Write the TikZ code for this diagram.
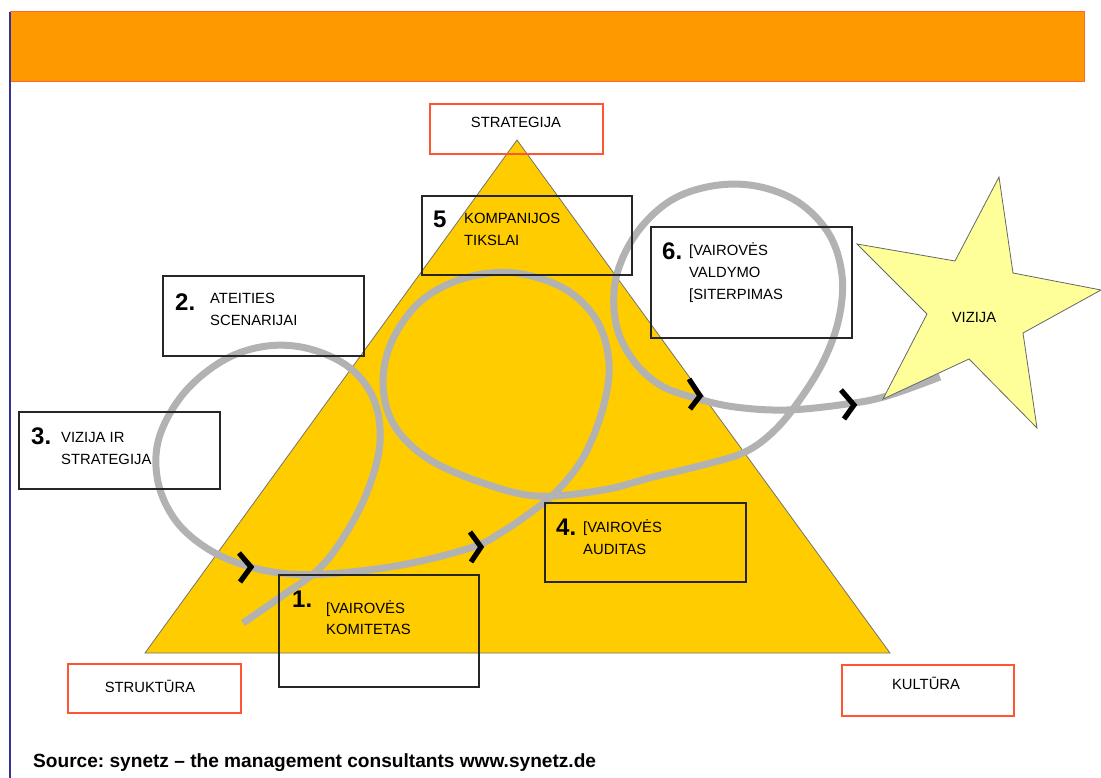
\documentclass[tikz,border=0pt]{standalone}
\usepackage{fontspec}
\setmainfont{Liberation Sans}
\frenchspacing
\definecolor{barorange}{HTML}{FF9900}
\definecolor{barborder}{HTML}{FF6633}
\definecolor{boxred}{HTML}{FF5533}
\definecolor{trifill}{HTML}{FFCC00}
\definecolor{spiralgray}{HTML}{B2B2B2}
\definecolor{starfill}{HTML}{FFFF99}
\definecolor{navyline}{HTML}{333399}
\begin{document}
\begin{tikzpicture}[x=1pt,y=-1pt,
  redbox/.style={draw=boxred, line width=1.4pt, inner sep=0pt},
  blkbox/.style={draw=black!85, line width=1.3pt, inner sep=0pt},
  lbl/.style={anchor=base west, inner sep=0pt, font=\fontsize{14.8}{17}\selectfont},
  clbl/.style={anchor=base, inner sep=0pt, font=\fontsize{14.8}{17}\selectfont},
  num/.style={anchor=base west, inner sep=0pt, font=\fontsize{24}{26}\selectfont\bfseries},
  spiral/.style={draw=spiralgray, line width=7pt, line cap=butt},
  chev/.style={draw=black, line width=5.2pt, line join=miter},
]
\useasboundingbox (0,0) rectangle (1101,778);
% top bar and left rule
\filldraw[fill=barorange, draw=barborder, line width=1pt] (10,12) rectangle (1084,82);
\draw[navyline, line width=1.5pt] (10,12) -- (10,778);
% triangle
\coordinate (apex) at (517,140);
\coordinate (bl) at (145,653);
\coordinate (br) at (890,653);
\filldraw[fill=trifill, draw=black!55, line width=0.8pt] (apex) -- (br) -- (bl) -- cycle;
% spiral
\draw[spiral] plot[smooth, tension=0.6] coordinates {
 (243,623) (282,596) (320,568) (348,530) (369,487) (380,442) (374,400)
 (350,368) (310,349) (267,346) (224,360) (184,393) (159,438) (158,482)
 (176,521) (208,549) (247,566) (290,574) (340,573) (407,564) (473,547)
 (502,532) (530,513) (558,490) (584,456) (603,408) (609,363) (597,321)
 (565,289) (515,273) (465,278) (421,301) (392,341) (383,384) (394,425)
 (427,458) (480,482) (537,496) (603,490) (653,477) (703,465) (745,452)
 (775,430) (801,398) (824,360) (839,318) (842,275) (829,234) (798,202)
 (756,186) (712,186) (670,201) (636,234) (616,278) (616,324) (633,360)
 (660,385) (695,398) (735,407) (787,410) (847,404) (887,396) (940,377)};
% chevrons
\draw[chev] (239,553) -- (251,567) -- (240,582);
\draw[chev] (470,532) -- (481,547) -- (471,562);
\draw[chev] (689,379) -- (700,396) -- (690,409);
\draw[chev] (841,390) -- (854,405) -- (844,419);
% star
\filldraw[fill=starfill, draw=black!60, line width=0.8pt]
 (999,177) -- (1013,273) -- (1101,290) -- (1023,333) -- (1037,428) -- (969,359)
 -- (883,399) -- (927,314) -- (857,244) -- (955,261) -- cycle;
\node[clbl] (vizija) at (974,322) {VIZIJA};
% red corner boxes
\node[redbox, minimum width=173pt, minimum height=50pt] (strat) at (516.5,129) {};
\node[clbl] (strattxt) at (516,128) {STRATEGIJA};
\node[redbox, minimum width=173pt, minimum height=49pt] (struk) at (154.5,688.5) {};
\node[clbl] (struktxt) at (150,692) {STRUKTŪRA};
\node[redbox, minimum width=172pt, minimum height=51pt] (kult) at (928,690.5) {};
\node[clbl] (kulttxt) at (926,689) {KULTŪRA};
% black step boxes
\node[blkbox, minimum width=200pt, minimum height=112pt] (b1) at (379,631) {};
\node[num] (n1) at (292,607) {1.};
\node[lbl] (t1a) at (326,613) {[VAIROVĖS};
\node[lbl] (t1b) at (326,634) {KOMITETAS};

\node[blkbox, minimum width=201pt, minimum height=80pt] (b2) at (263.5,316) {};
\node[num] (n2) at (175,310) {2.};
\node[lbl] (t2a) at (210,304) {ATEITIES};
\node[lbl] (t2b) at (210,326) {SCENARIJAI};

\node[blkbox, minimum width=201pt, minimum height=77pt] (b3) at (119.5,450.5) {};
\node[num] (n3) at (31,444) {3.};
\node[lbl] (t3a) at (61,442) {VIZIJA IR};
\node[lbl] (t3b) at (61,464) {STRATEGIJA};

\node[blkbox, minimum width=201pt, minimum height=79pt] (b4) at (645.5,542.5) {};
\node[num] (n4) at (556,535) {4.};
\node[lbl] (t4a) at (583,532) {[VAIROVĖS};
\node[lbl] (t4b) at (583,554) {AUDITAS};

\node[blkbox, minimum width=210pt, minimum height=79pt] (b5) at (527,235.5) {};
\node[num] (n5) at (433,228) {5};
\node[lbl] (t5a) at (464,224) {KOMPANIJOS};
\node[lbl] (t5b) at (464,246) {TIKSLAI};

\node[blkbox, minimum width=201pt, minimum height=111pt] (b6) at (751.5,282.5) {};
\node[num] (n6) at (662,260) {6.};
\node[lbl] (t6a) at (689,256) {[VAIROVĖS};
\node[lbl] (t6b) at (689,278) {VALDYMO};
\node[lbl] (t6c) at (689,300) {[SITERPIMAS};
% source
\node[anchor=base west, inner sep=0pt, font=\fontsize{19.1}{21}\selectfont\bfseries] (src) at (33,767)
 {Source: synetz – the management consultants www.synetz.de};
\end{tikzpicture}
\end{document}
